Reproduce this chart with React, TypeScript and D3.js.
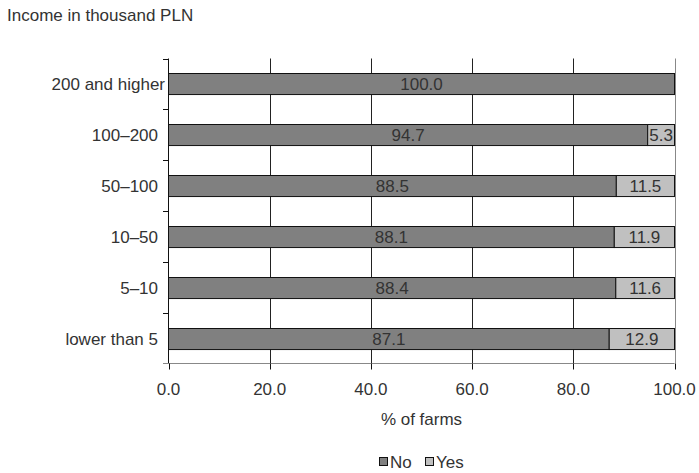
import React from "react";
import * as d3 from "d3";

const categories = ["200 and higher", "100–200", "50–100", "10–50", "5–10", "lower than 5"];
const noValues = [100.0, 94.7, 88.5, 88.1, 88.4, 87.1];
const yesValues = [0, 5.3, 11.5, 11.9, 11.6, 12.9];
const xTicks = [0, 20, 40, 60, 80, 100];
const seriesNames = ["No", "Yes"];
const seriesColors = ["#808080", "#c0c0c0"];

const W = 699;
const H = 473;
const FONT = "'Liberation Sans', Arial, sans-serif";
const TEXT = "#333";

export default function App() {
  const x = d3.scaleLinear().domain([0, 100]).range([168.5, 674.5]);
  const y = d3
    .scaleBand<string>()
    .domain(categories)
    .range([58.5, 363.5])
    .paddingInner(0.586)
    .paddingOuter(0.293);
  const step = y.step();
  const top = 58.5;
  const bottom = 363.5;
  const bw = y.bandwidth();

  const boundaries = d3.range(categories.length + 1).map((i) => top + i * step);

  return (
    <svg
      width={W}
      height={H}
      style={{ position: "absolute", left: 0, top: 0, background: "#fff" }}
      fontFamily={FONT}
    >
      <rect x={0} y={0} width={W} height={H} fill="#fff" />
      <text x={7} y={21} fontSize={17} fill={TEXT}>
        Income in thousand PLN
      </text>

      {/* vertical gridlines */}
      {xTicks.slice(1).map((t) => (
        <line
          key={"g" + t}
          x1={Math.round(x(t)) + 0.5}
          x2={Math.round(x(t)) + 0.5}
          y1={top}
          y2={bottom}
          stroke={t === 100 ? "#888" : "#222"}
          strokeWidth={1}
        />
      ))}

      {/* bars */}
      {categories.map((c, i) => {
        const yy = Math.round(y(c)!) + 0.5;
        const x0 = x(0);
        const xn = x(noValues[i]);
        const xe = x(noValues[i] + yesValues[i]);
        const cy = yy + bw / 2;
        return (
          <g key={c}>
            <rect x={x0} y={yy} width={xn - x0} height={bw} fill={seriesColors[0]} stroke="#111" strokeWidth={1} />
            {yesValues[i] > 0 && (
              <rect x={xn} y={yy} width={xe - xn} height={bw} fill={seriesColors[1]} stroke="#111" strokeWidth={1} />
            )}
            <text x={(x0 + xn) / 2} y={cy} dy="0.35em" textAnchor="middle" fontSize={17} fill={TEXT}>
              {noValues[i].toFixed(1)}
            </text>
            {yesValues[i] > 0 && (
              <text x={(xn + xe) / 2} y={cy} dy="0.35em" textAnchor="middle" fontSize={17} fill={TEXT}>
                {yesValues[i].toFixed(1)}
              </text>
            )}
          </g>
        );
      })}

      {/* left axis */}
      <line x1={168.5} x2={168.5} y1={top} y2={bottom} stroke="#111" />
      {boundaries.slice(0, -1).map((b, i) => (
        <line key={"yt" + i} x1={163} x2={168.5} y1={Math.round(b) + 0.5} y2={Math.round(b) + 0.5} stroke="#111" />
      ))}
      {categories.map((c) => (
        <text
          key={"yl" + c}
          x={c.length > 12 ? 165 : 158}
          y={y(c)! + bw / 2 + 0.5}
          dy="0.35em"
          textAnchor="end"
          fontSize={17}
          fill={TEXT}
        >
          {c}
        </text>
      ))}

      {/* bottom axis */}
      <line x1={163} x2={674.5} y1={bottom} y2={bottom} stroke="#888" strokeWidth={1.2} />
      {xTicks.map((t) => (
        <line
          key={"xt" + t}
          x1={Math.round(x(t)) + 0.5}
          x2={Math.round(x(t)) + 0.5}
          y1={bottom}
          y2={bottom + 6}
          stroke="#111"
        />
      ))}
      {xTicks.map((t) => (
        <text key={"xl" + t} x={x(t)} y={395} textAnchor="middle" fontSize={17} fill={TEXT}>
          {t.toFixed(1)}
        </text>
      ))}
      <text x={(x(0) + x(100)) / 2} y={425} textAnchor="middle" fontSize={17} fill={TEXT}>
        % of farms
      </text>

      {/* legend */}
      {(() => {
        const items = [
          { name: seriesNames[0], color: seriesColors[0], x: 379 },
          { name: seriesNames[1], color: seriesColors[1], x: 425 },
        ];
        return items.map((it) => (
          <g key={it.name}>
            <rect x={it.x + 0.5} y={457.5} width={8} height={8} fill={it.color} stroke="#111" />
            <text x={it.x + 11} y={468} fontSize={17} fill={TEXT}>
              {it.name}
            </text>
          </g>
        ));
      })()}
    </svg>
  );
}
